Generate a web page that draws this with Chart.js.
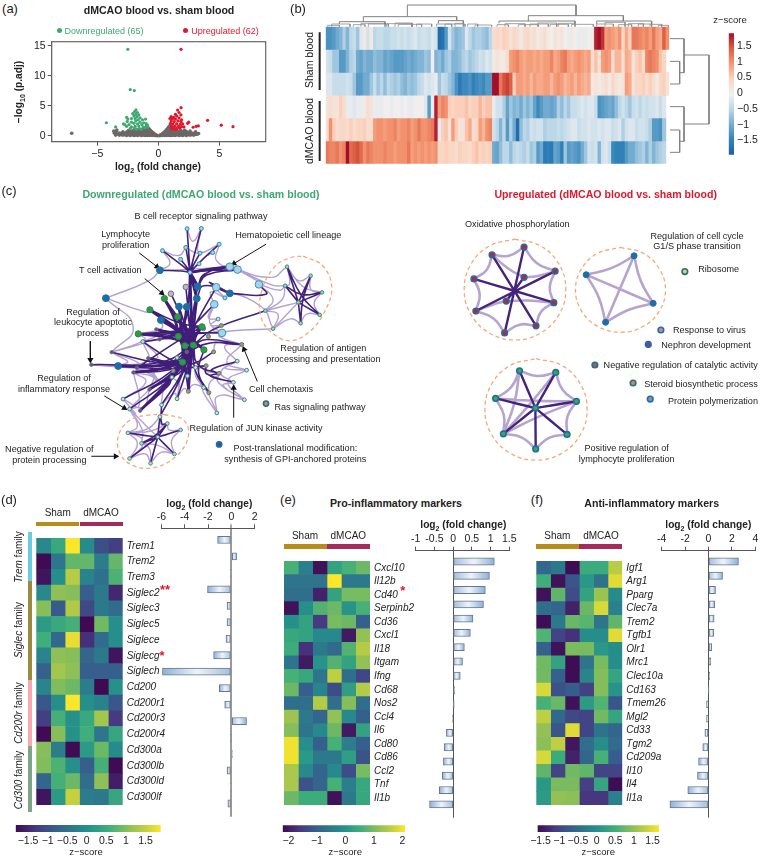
<!DOCTYPE html>
<html>
<head>
<meta charset="utf-8">
<title>dMCAO blood vs. sham blood</title>
<script src="https://cdn.jsdelivr.net/npm/chart.js@4"></script>
<style>
  html, body { margin: 0; padding: 0; background: #fff; }
  #page { position: relative; width: 760px; height: 857px; overflow: hidden; font-family: "Liberation Sans", Arial, sans-serif; color: #222; }
  #page canvas { position: absolute; }
  .note { position: absolute; white-space: nowrap; text-align: center; z-index: 5; }
  .block { position: absolute; z-index: 4; }
</style>
</head>
<body>
<div id="page"></div>
<script>
// ---------- Datos: (a) volcano ----------
var volcanoXTicks = [-5, 0, 5];
var volcanoYTicks = [0, 5, 10, 15];
var downPts = [[-2.5,14.4],[-2.3,7.7],[-1.97,7.55],[-4.26,2.2],[-3.5,1.5],[-1.83,4.33],[-1.94,4.05],[-1.72,3.9],[-2.1,3.7],[-1.85,3.6],[-1.6,3.5],[-2,3.3],[-1.75,3.2],[-2.6,3.1],[-2.5,2.8],[-1.5,3],[-1.9,2.9],[-2.2,2.9],[-1.65,2.7],[-1.3,2.7],[-1.05,2.8],[-1.85,2.5],[-2.55,2.4],[-2.2,2.3],[-1.5,2.3],[-1.2,2.2],[-2.85,2],[-2.4,1.9],[-2,2.1],[-1.7,2],[-1.35,1.9],[-1,2.05],[-2.6,1.6],[-2.2,1.5],[-1.9,1.6],[-1.6,1.65],[-1.25,1.5],[-0.95,1.7],[-2.3,1.25],[-1.95,1.3],[-1.55,1.25],[-1.1,1.35],[-0.85,1.5],[-1.8,1.15],[-1.4,1.1],[-2.75,1.9],[-0.9,1.85]];
var upPts = [[1.86,14.4],[1.86,4.7],[1.58,4.3],[1.7,3.9],[1.4,3.6],[1.85,3.5],[1.05,3.2],[1.5,3.3],[1.25,3.1],[1.7,3],[0.95,2.9],[1.15,2.8],[1.4,2.8],[1.9,2.7],[1.6,2.5],[1.05,2.5],[1.3,2.4],[1.85,2.4],[2.49,2.3],[2.4,2.1],[4.04,2.6],[5.16,1.8],[6.12,1.55],[3.28,1.67],[3.1,1.6],[1,2.1],[1.2,2],[1.5,2],[1.8,1.95],[2,2],[1.1,1.7],[1.35,1.6],[1.65,1.6],[1.9,1.55],[2.1,1.5],[1.05,1.4],[1.25,1.3],[1.5,1.25],[1.75,1.3],[1.15,1.15],[1.4,1.1],[2.85,1.45]];
var greyPts = [[-7.1,0.45],
  [-0.1,0.05],[-0.15,0.15],[-0.2,0.08],[-0.25,0.25],[-0.3,0.1],[-0.35,0.4],[-0.4,0.2],[-0.45,0.55],[-0.5,0.1],[-0.5,0.35],[-0.55,0.75],[-0.6,0.2],[-0.6,0.5],[-0.65,0.95],[-0.7,0.1],[-0.7,0.35],[-0.7,0.7],[-0.75,1.15],[-0.8,0.2],[-0.8,0.5],[-0.8,0.9],[-0.85,1.35],[-0.9,0.1],[-0.9,0.35],[-0.9,0.7],[-0.9,1.1],[-0.95,1.55],[-1,0.15],[-1,0.5],[-1,0.85],[-1,1.25],[-1.1,0.1],[-1.1,0.35],[-1.1,0.65],[-1.1,1],[-1.15,1.3],[-1.25,0.15],[-1.25,0.45],[-1.25,0.8],[-1.25,1.15],[-1.4,0.1],[-1.4,0.35],[-1.4,0.7],[-1.4,0.95],[-1.55,0.2],[-1.55,0.5],[-1.55,0.85],[-1.7,0.1],[-1.7,0.4],[-1.7,0.75],[-1.7,1.05],[-1.85,0.15],[-1.85,0.45],[-1.85,0.8],[-2,0.1],[-2,0.35],[-2,0.65],[-2,1],[-2.15,0.2],[-2.15,0.5],[-2.15,0.8],[-2.3,0.1],[-2.3,0.4],[-2.3,0.7],[-2.45,0.2],[-2.45,0.5],[-2.45,0.9],[-2.6,0.1],[-2.6,0.35],[-2.6,0.65],[-2.75,0.2],[-2.75,0.45],[-2.9,0.15],[-2.9,0.4],[-2.9,0.7],[-3.05,0.2],[-3.05,0.45],[-3.2,0.15],[-3.2,0.5],[-3.4,0.3],[-3.45,0.75],[-3.5,0.15],[-3.6,0.45],[-3.65,0.8],[-3.4,1],
  [0.1,0.05],[0.15,0.15],[0.2,0.08],[0.25,0.25],[0.3,0.1],[0.35,0.4],[0.4,0.2],[0.45,0.55],[0.5,0.1],[0.5,0.35],[0.55,0.75],[0.6,0.2],[0.6,0.5],[0.65,1],[0.7,0.1],[0.7,0.35],[0.7,0.7],[0.75,1.25],[0.8,0.2],[0.8,0.5],[0.8,0.95],[0.85,1.5],[0.9,0.1],[0.9,0.35],[0.9,0.7],[0.9,1.2],[0.95,1.75],[1,0.15],[1,0.5],[1,0.85],[1.05,1.2],[1.1,0.1],[1.1,0.35],[1.1,0.65],[1.1,0.95],[1.25,0.15],[1.25,0.45],[1.25,0.8],[1.4,0.1],[1.4,0.35],[1.4,0.7],[1.55,0.2],[1.55,0.5],[1.55,0.85],[1.7,0.1],[1.7,0.4],[1.7,0.75],[1.85,0.15],[1.85,0.45],[1.85,0.9],[2,0.1],[2,0.35],[2,0.65],[2.15,0.2],[2.15,0.5],[2.15,0.95],[2.3,0.1],[2.3,0.4],[2.3,0.75],[2.45,0.2],[2.45,0.5],[2.6,0.15],[2.6,0.4],[2.6,0.8],[2.75,0.2],[2.75,0.5],[2.9,0.15],[2.9,0.4],[3.05,0.25],[3.05,0.7],[3.2,0.3],[3.3,0.4]
];

// ---------- Datos: (b) mapa de calor ----------
var bRows = [
  [-1.3,-1.3,-1.2,-1,-.9,-.6,-.9,-.5,-.4,-.7,-.2,.1,-.3,.1,-.5,-.4,-.4,-.5,-.5,-.4,-.4,-.3,-.4,-.3,-.4,-.3,-.2,-.4,-.3,-.3,-.4,-.2,-.3,-1.8,-1.7,-1.2,-.3,-.7,-.9,-.8,-.7,-.2,-.5,-.7,-.6,-.6,-.7,-.8,-.5, .3,.4,.3,.5,.4,.2,.4,.3,.1,.3,.4,.2,.3,.1,.2,.3,.1,0,.2,.1,.2,0,-.1,.1,0,-.1,.1,-.1,0,.1, 1.8,1.9,1.7,.9,1,.9,.8,1,.4,.8,.5,1.2,1.2,1.1,1,1.1,.9,1.2,.9,.8,1.4,1],
  [-.3,-.4,-.7,-.7,-1.2,-1.2,-.9,-.6,-.5,-1,-1.1,-.9,-1,-1,-.8,-.9,-.9,-1.1,-1,-1.1,-1.2,-1.2,-1.2,-1.1,-1,-1.1,-1,-.9,-.9,-.7,-.8,0,-.9,-.8,-1,-.7,-.6,-.9,-.9,-.8,-.6,-.5,-.7,-.6,-.5,-.3,-.4,-.2,-.3, .1,.2,.1,.1,.3,.9,1,1.1,.9,.8,.9,.9,.8,.9,.8,.9,.9,1.1,.8,.9,1.1,1.2,.9,.8,.9,1,.9,.8,.9,.3,.6,.2,.9,1,.9,.3,.7,.7,.3,.8,.7,.2,.5,.6,.3,1.1,1.2,1.1,1,.6,.4],
  [-.2,-.2,-.4,-.4,-.4,-.4,-.3,-.4,-.7,-1.2,-1.2,-1,-1,-.7,-.4,-.7,-.5,-.8,-.5,-.6,-.7,-.6,-.8,-.9,-.7,-.8,-.7,-.5,-.4,-.2,-.3,-.2,-.1,-.7,-.4,-.5,-.7,-.9,-1.3,-1.6,-1.4,-1.4,-1.3,-1.5,-1.4,-1.3,-1.4,-1.2,-1.2, 1.9,1.9,1.2,1.5,1.6,1.4,.5,.9,.9,.8,.9,.7,.9,.8,.8,.9,.9,.7,.9,1,.9,.7,.8,.9,.7,.9,.8,.7,.8,.1,.2,.1,.2,.3,.1,.4,.2,.1,.2,.9,.8,.2,.4,.4,.5,.3,.5,.3,.1,.4,.5,.2],
  [.2,.3,.2,.2,.5,.3,-.1,-.1,-.2,-.1,-.1,.1,.3,.2,-.1,-.1,-.1,0,0,-.1,0,0,-.1,0,-.1,-.1,0,0,0,-.2,-1.2,-.1,1.8,.9,1.1,1,.5,.4,.5,.5,.5,.6,.4,.5,.5,.7,.5,.6,.6, -.1,-.3,-.3,-.6,-1.1,-.7,-.9,-.8,-1,-.7,-.9,-.7,-1.1,-1.4,-1.2,-1,-1,-1.1,-1,-.6,-.8,-.5,-.7,-.4,-.4,-.3,-.2,-.3,-.2,-.2,-.4,-1.3,-1.2,-1.1,-1,-1.1,-.8,-.5,-.3,-.5,-.7,-.4,-.3,-.5,-.3,-.4,-.3,-.3,-.2,-.4,-.2],
  [.3,1,.5,.3,.4,.4,.3,.5,.3,.4,.4,.5,.3,.3,.9,1,1,.9,1,1,1.1,.9,1,1,1.1,.9,1,1.2,1,1,1.1,1.2,1.8,-.1,.5,.6,.2,.9,.5,.2,.2,.6,.8,.3,.4,.9,.7,1,1.1, -.3,-.5,-.9,-.5,-1.2,-.6,-1,-1.8,-.8,-.5,-.6,-.3,-.4,-.3,-.3,-.6,-.5,-.5,-.5,-.4,-.5,-.4,-.3,-.2,-.2,-.4,-.3,-.3,-.2,-.3,-.3,-.2,-.3,-.2,-.2,-.4,-.3,-.2,-.6,-.3,-.2,-.2,-.4,-.3,-.3,-.4,-.6,-1.2,-1.2,-1.3,-.7],
  [1.2,1.1,1.1,1.2,1,1.1,1.9,1.3,1.4,1.5,1.3,1,1.2,1.1,1,1,1,1.1,1,1,.9,1,1,1,1.2,.9,1,.9,1,.9,1,.9,1,.4,.4,.5,.4,.4,.3,.5,.4,.4,.3,.5,.6,.4,.5,.4,.5, -1,-1.1,-.8,-.5,-.5,-.8,-.5,-.4,-.5,-.6,-.4,-.7,-.6,-1.2,-1,-1.6,-1.5,-1.6,-1.1,-1.2,-1.5,-.7,-1.2,-1.1,-1.2,-1.3,-1,-.7,-.3,-.4,-.3,-.9,-.3,-.2,-.4,-1.4,-1.5,-1.5,-1.5,-1.2,-1,-1,-.8,-.7,-.6,-.9,-.6,-.9,-.7,-.6,-.5]
];
var bTicks = [-1.5, -1, -0.5, 0, 0.5, 1, 1.5];

// ---------- Datos: (d) ----------
var dGenes = ["Trem1","Trem2","Trem3","Siglec2","Siglec3","Siglec5","Siglece","Siglecg","Siglech","Cd200","Cd200r1","Cd200r3","Cd200r4","Cd300a","Cd300lb","Cd300ld","Cd300lf"];
var dZ = [[-.1,.45,1.9,-.05,-1,-1.25],[-1.8,-.4,.8,.8,-.3,.8],[-1.7,0,1.4,-.2,-.5,.65],[-.1,1.1,1.05,-.8,-.35,-1.5],[1.05,-.85,1.35,-1.1,-.35,-.6],[.2,.45,.6,-1.85,.9,0],[.55,-.65,1.75,-1.4,-.6,0],[-.15,1.1,1.05,-.7,-.35,-1.7],[-.75,1.25,1.1,-.8,-.8,-.8],[-.15,1,.85,-.3,-1.85,.05],[-.9,0,1.9,0,-.2,-.9],[-1.25,.6,.05,.45,1.25,-1.3],[-1.8,1.05,.05,.55,-.4,.4],[1.05,-.3,-1.8,.2,.85,-.05],[1,.65,0,-.8,.6,-1.8],[-.7,.6,.85,-.55,1.1,-1.6],[-1.7,.2,1.5,-.3,-.35,.4]];
var dFold = [-1.18,.45,-.05,-2.04,-.37,-.37,-.46,-1.52,-5.9,-1.03,-.57,1.3,-.02,.08,-.37,-.08,-.3];
var dFoldTicks = [-6,-4,-2,0,2];
var dZTicks = [-1.5,-1,-.5,0,.5,1,1.5];

// ---------- Datos: (e) ----------
var eGenes = ["Cxcl10","Il12b","Cd40","Serpinb2","Cd36","Cxcl1","Il18","Itgam","Ifng","Cd68","Nos2","Ccl4","Il6","Cd80","Cd86","Ccl2","Tnf","Il1b"];
var eZ = [[.6,-.4,-2.1,.3,.6,.9],[-.6,-.6,-.6,2.1,-.5,-.5],[-.7,-.7,-1.9,.3,1,1],[-2.1,-.1,.7,.9,0,.6],[-.1,.3,-1.6,1,.9,-1],[.4,.3,-.2,-.2,-2,1.2],[.5,-1.7,-.5,-.8,.7,1.5],[-.6,-2,0,.7,.3,1.2],[.6,.4,-.6,1.6,-.7,-1.4],[.9,-1,-.3,-1.3,.2,1.5],[-.7,-.7,1.5,-.7,1.1,-.7],[1.3,-.5,-.9,1.2,-.2,-1],[1.1,-.6,-.2,.9,-2,.3],[2,-.1,-1,.6,-.4,-1],[2,.1,-.5,-.5,.2,-1.2],[1.4,-.2,-.9,-.2,-1.3,1],[1.4,-1.2,-.9,.6,-.4,.4],[.9,.5,.5,-2.1,-.5,.4]];
var eFold = [1.1,.97,.86,.81,.53,.46,.3,.25,.19,.04,.03,-.02,-.18,-.24,-.26,-.29,-.37,-.63];
var eFoldTicks = [-1,-.5,0,.5,1,1.5];
var eZTicks = [-2,-1,0,1,2];

// ---------- Datos: (f) ----------
var fGenes = ["Igf1","Arg1","Pparg","Clec7a","Trem2","Tgfb1","Olr1","Mrc1","Clec10a","Cd163","Tmem26","Mgl2","Cd33","Tgm2","Cd209a","Il10","Il4","Il1a"];
var fZ = [[-.55,-.3,-1.55,.45,.45,1.25],[.5,-1.5,-.8,.15,-.4,1.5],[-1.5,.7,-.9,.3,1.05,-.05],[-.45,-.6,-1.35,.75,1.45,-.2],[-1.55,-.3,.75,.65,-.35,.7],[.6,-1,-1.2,0,0,1.5],[-.65,-1.5,.85,.85,.15,0],[.8,.3,-1.55,-.35,.85,0],[.8,-.65,-1.55,-.1,.9,.35],[1.45,-.85,-.7,-1.05,.9,.1],[.55,.75,-1.5,.2,.6,-.8],[1.3,-.55,-.95,-1,.8,.35],[1,-.8,1.5,-1,-.4,-.6],[.95,1.3,-1.45,-.45,0,-.5],[1.45,.45,-1.35,-.6,.55,-.7],[.7,-1,.8,.7,-1,-1],[.15,.85,.85,-1.05,.35,-1.55],[.2,1,.95,-1.15,-1.15,-.2]];
var fFold = [2.56,1.2,.6,.54,.48,.46,.28,.2,.1,.01,-.17,-.17,-.31,-.49,-.85,-.94,-1.77,-3.3];
var fFoldTicks = [-4,-2,0,2,4];
var fZTicks = [-1.5,-1,-.5,0,.5,1,1.5];

// ---------- Datos: (c) redes, en unidades de lectura de la figura ----------
var paleNodes = [[693,268],[717,277],[783,323],[651,332],[645,385],[669,474]];
var blueNodes = [[594,330],[693,351],[591,367],[536,392],[560,393],[480,434],[477,279],[310,366],[348,577]];
var greenNodes = [[491,367],[446,402],[532,424],[410,477],[534,485],[554,514],[580,512],[613,527],[607,455],[547,565]];
var pinkNodes = [[511,352],[557,331]];
var topNodes = [[561,150],[605,149],[485,218],[557,208],[660,198],[601,226],[640,224],[541,245],[598,259],[570,286],[678,365]];
var antigenNodes = [[870,268],[943,296],[864,327],[978,348],[905,379],[803,405],[971,418],[912,444],[827,461]];
var redNodes = [[466,463],[476,494],[265,573],[328,534],[441,553],[406,583],[395,597],[560,533],[445,650],[416,716]];
var orangeNodes = [[730,510],[612,461],[627,485],[667,451],[643,533],[518,592],[620,576],[660,600],[628,660],[565,656]];
var creamNodes = [[424,501],[530,551],[587,582],[716,562],[745,590],[704,628],[738,682],[653,723],[612,644],[514,612],[562,608],[530,679],[363,680],[383,711],[482,698],[477,735],[657,431]];
var bottomNodes = [[378,785],[420,818],[470,798],[500,756],[541,776],[522,851],[448,880],[383,865]];
var downTrunk = [[36,8],[36,21],[21,19],[21,24],[19,24],[21,66],[17,21],[16,21],[18,21],[11,21],[21,23],[24,77],[0,36],[36,6],[15,19],[8,21],[10,19],[9,19],[23,24],[53,24],[14,24],[51,24],[55,24],[56,24],[47,21],[22,21],[20,24]];
var downDark = [[27,36],[28,36],[30,36],[32,36],[35,36],[29,36],[34,36],[31,36],[12,36],[0,36],[1,36],[36,6],[36,8],[36,21],[36,19],[6,20],[8,20],[9,20],[10,21],[3,20],[4,19],[5,18],[5,19],[15,21],[15,20],[16,21],[16,19],[16,23],[11,21],[11,22],[17,21],[17,24],[18,21],[18,23],[19,22],[47,21],[48,58],[67,21],[67,24],[51,21],[52,23],[53,24],[49,21],[50,24],[14,21],[14,63],[24,66],[24,77],[21,77],[21,66],[55,21],[55,24],[56,21],[56,76],[80,24],[79,21],[81,21],[82,21],[78,21],[62,21],[76,24],[65,22],[65,21],[64,21],[64,72],[57,24],[57,21],[63,72],[70,64],[61,24],[43,21],[2,7],[7,3],[7,8],[0,6],[1,6],[25,21],[26,21],[38,42],[39,42],[40,42],[41,42],[44,42],[45,42],[39,45],[38,44],[41,40],[84,86],[85,86],[87,86],[88,86],[89,86],[90,86],[91,86],[82,86],[87,85],[81,87]];
var downLight = [[13,12],[13,50],[12,0],[0,38],[1,40],[2,40],[1,2],[2,43],[12,29],[29,30],[30,31],[31,1],[33,31],[27,28],[28,32],[38,40],[38,39],[39,41],[41,44],[44,45],[45,46],[46,43],[43,40],[40,42],[42,46],[42,43],[38,41],[5,57],[5,46],[3,46],[57,70],[57,71],[70,71],[71,73],[72,73],[73,74],[74,75],[75,65],[64,74],[64,73],[61,57],[49,50],[50,67],[50,53],[49,52],[14,67],[14,52],[79,80],[79,55],[80,84],[80,85],[80,86],[84,85],[84,87],[84,91],[85,90],[85,91],[85,89],[90,91],[90,89],[89,88],[88,87],[87,82],[82,84],[86,91],[86,90],[55,53],[53,79],[53,80],[51,80],[52,55],[52,81],[81,78],[78,66],[66,75],[76,78],[68,78],[69,75],[69,63],[63,64],[70,72],[67,51],[67,18],[11,18],[18,50],[13,16],[4,5],[60,5],[83,60],[83,4],[7,37],[37,4]];
var downHubs = [[570,280],[570,470],[560,600],[905,379],[470,800]];
var antigenEllipse = [[920,235],[980,265],[1008,330],[990,400],[940,470],[880,498],[825,475],[790,425],[790,350],[830,270],[880,240],[920,235]];
var processingEllipse = [[490,728],[550,745],[565,795],[530,855],[460,893],[390,885],[352,845],[350,790],[385,745],[440,730],[490,728]];
var soloLeft = [[805,694,"#e8862a"],[660,821,"#3f4a9a"]];
var arrowsLeft = [[[413,225],[468,268]],[[430,305],[483,350]],[[805,198],[706,258]],[[262,500],[262,558]],[[305,670],[367,708]],[[265,858],[340,858]],[[778,625],[737,525]],[[705,738],[705,645]]];

var oxNodes = [[428,207],[329,231],[524,282],[273,306],[428,301],[520,380],[373,375],[279,406],[465,452],[368,474]];
var cycleNodes = [[620,293],[768,234],[827,382],[680,441]];
var lymphNodes = [[414,592],[526,597],[340,678],[590,687],[463,708],[364,788],[561,790],[464,835]];
var upDark = [[0,9],[1,8],[3,5],[7,2],[4,6],[14,18],[15,18],[16,18],[17,18],[19,18],[20,18],[21,18]];
var upLight = [[0,1],[0,2],[2,5],[5,8],[8,9],[9,7],[7,3],[3,1],[1,4],[2,4],[6,5],[7,6],[10,11],[11,12],[12,13],[13,10],[10,12],[11,13],[14,15],[15,17],[17,20],[20,21],[21,19],[19,16],[16,14],[14,19],[15,19],[16,17],[19,17]];
var upHubs = [[400,342],[724,338],[463,708]];
var oxCircle = [[400,182],[478,203],[536,260],[557,339],[536,417],[478,475],[400,496],[322,475],[264,417],[243,339],[264,260],[322,203],[400,182]];
var cycleCircle = [[726,208],[796,226],[846,274],[865,340],[846,406],[796,454],[726,472],[656,454],[606,406],[587,340],[606,274],[656,226],[726,208]];
var lymphCircle = [[465,554],[544,575],[602,633],[623,712],[602,791],[544,849],[465,870],[386,849],[328,791],[307,712],[328,633],[386,575],[465,554]];
var soloRight = [[925,283,"#f2d32a"],[851,465,"#e07ab0"],[812,510,"#7a3f98"],[647,574,"#b5602a"],[765,630,"#e8862a"],[818,680,"#8f93a0"]];

// ---------- Datos: (b) dendrogramas, mismas unidades ----------
var treeTop = [[[367,50],[367,15],[873,15],[873,47]],[[235,65],[235,50],[515,50],[515,62]],[[730,63],[730,47],[1015,47],[1015,63]],[[163,72],[163,65],[300,65],[300,72]],[[460,70],[460,62],[535,62],[535,70]],[[642,70],[642,63],[870,63],[870,70]],[[935,72],[935,63],[1100,63],[1100,72]]];
var treeLeaves = [[128,163,76],[140,195,72],[205,240,74],[228,300,70],[250,310,72],[305,380,71],[330,382,69],[340,410,73],[395,440,72],[455,500,72],[480,540,72],[510,535,70],[548,578,72],[570,620,75],[636,670,74],[660,720,71],[700,760,74],[735,790,72],[758,815,69],[795,850,73],[820,870,70],[860,925,73],[935,985,72],[960,1020,67],[1000,1040,74],[1030,1075,71],[1060,1100,72],[1095,1130,73],[1120,1150,76]];
var treeSide = [[[1155,116],[1197,116],[1197,218],[1184,218]],[[1155,184],[1184,184],[1184,252],[1155,252]],[[1155,320],[1197,320],[1197,424],[1184,424]],[[1155,390],[1184,390],[1184,457],[1155,457]],[[1197,165],[1272,165],[1272,372],[1197,372]]];
var sideBars = [[[104,97],[104,270]],[[104,303],[104,483]]];

// ---------- Colores y utilidades ----------
var viridis = [[0,"#3f0a52"],[.14,"#463a82"],[.28,"#35608d"],[.5,"#25908b"],[.64,"#3fae7a"],[.78,"#8cbf58"],[.9,"#c6d13f"],[1,"#fce62c"]];
var rdbu = [[0,"#1a62a3"],[.12,"#3182b9"],[.25,"#74acd0"],[.37,"#b9d6e8"],[.5,"#f1f0f0"],[.63,"#fbd2bd"],[.76,"#f3946f"],[.89,"#d8563f"],[1,"#a30f2a"]];

Chart.defaults.animation = false;
Chart.defaults.font.family = '"Liberation Sans", Arial, sans-serif';
Chart.defaults.font.size = 10.5;
Chart.defaults.color = "#222";
Chart.defaults.events = [];
Chart.defaults.plugins.legend.display = false;
Chart.defaults.plugins.tooltip.enabled = false;

var page = document.getElementById("page");

function hex(c) { return [parseInt(c.slice(1,3),16), parseInt(c.slice(3,5),16), parseInt(c.slice(5,7),16)]; }
function colorAt(map, t) {
  t = Math.max(0, Math.min(1, t));
  for (var i = 1; i < map.length; i++) {
    if (t <= map[i][0]) {
      var a = hex(map[i-1][1]), b = hex(map[i][1]), k = (t - map[i-1][0]) / (map[i][0] - map[i-1][0]);
      return "rgb(" + [0,1,2].map(function (j) { return Math.round(a[j] + (b[j]-a[j]) * k); }).join(",") + ")";
    }
  }
  return map[map.length-1][1];
}
function minusSign(v) { return String(v).replace("-", "\u2212"); }
function fixedTicks(list) { return function (s) { s.ticks = list.map(function (v) { return { value: v }; }); }; }

// Crea un canvas con el area de dibujo fijada en pixeles de la pagina
function mount(r, m, ax) {
  ax = ax || {};
  var cv = document.createElement("canvas");
  var cx = Math.floor(r.l - m.l), cy = Math.floor(r.t - m.t);
  var w = Math.ceil(r.r + m.r) - cx, h = Math.ceil(r.b + m.b) - cy;
  cv.width = w; cv.height = h;
  cv.style.left = cx + "px"; cv.style.top = cy + "px";
  cv.style.width = w + "px"; cv.style.height = h + "px";
  page.appendChild(cv);
  return {
    canvas: cv,
    padding: {
      left: r.l - cx - (ax.left || 0),
      top: r.t - cy - (ax.top || 0),
      right: w - (r.r - cx) - (ax.right || 0),
      bottom: h - (r.b - cy) - (ax.bottom || 0)
    }
  };
}
function note(x, y, html, o) {
  o = o || {};
  var d = document.createElement("div");
  d.className = "note";
  d.innerHTML = html;
  d.style.left = x + "px";
  d.style.top = y + "px";
  d.style.fontSize = (o.size || 9.1) + "px";
  d.style.lineHeight = (o.lh || 10.7) + "px";
  if (o.bold) d.style.fontWeight = "bold";
  if (o.italic) d.style.fontStyle = "italic";
  d.style.color = o.color || "#222";
  d.style.transform = "translate(-50%,-50%)" + (o.rot ? " rotate(" + o.rot + "deg)" : "");
  page.appendChild(d);
}
function block(l, t, r, b, color, round) {
  var d = document.createElement("div");
  d.className = "block";
  d.style.cssText = "left:" + l + "px;top:" + t + "px;width:" + (r-l) + "px;height:" + (b-t) + "px;background:" + color + (round ? ";border-radius:50%" : "");
  page.appendChild(d);
}

function heatChart(r, genes, mat, vmin, vmax, labelW) {
  var box = mount(r, { l: 1, t: 3, r: labelW + 1, b: 3 }, { right: labelW });
  var sets = [0,1,2,3,4,5].map(function (c) {
    return {
      data: mat.map(function () { return [c, c + 1]; }),
      backgroundColor: mat.map(function (row) { return colorAt(viridis, (row[c] - vmin) / (vmax - vmin)); }),
      borderWidth: 0, grouped: false, categoryPercentage: 1, barPercentage: 1
    };
  });
  new Chart(box.canvas, {
    type: "bar",
    data: { labels: genes, datasets: sets },
    options: {
      responsive: false, indexAxis: "y", layout: { padding: box.padding },
      scales: {
        x: { type: "linear", min: 0, max: 6, display: false },
        y: {
          position: "right", grid: { display: false, drawTicks: false }, border: { display: false },
          afterFit: function (s) { s.width = labelW; },
          ticks: { autoSkip: false, crossAlign: "near", padding: 4, color: "#222", font: { size: 10, style: "italic" } }
        }
      }
    }
  });
}

function foldChart(r, genes, vals, ticks, rowTop, rowH, zeroColor, zeroW) {
  var box = mount(r, { l: 12, t: 20, r: 12, b: 2 }, { top: 18 });
  new Chart(box.canvas, {
    type: "bar",
    data: {
      labels: genes,
      datasets: [{
        data: vals.map(function (v, i) { return { x: v, y: i + 0.5 }; }),
        barThickness: 7.2, borderWidth: 1, borderColor: "#66788c", borderSkipped: false,
        backgroundColor: function (c) {
          var chart = c.chart, xs = chart.scales.x;
          if (!chart.chartArea || !c.parsed) return "#bcd0e6";
          var g = chart.ctx.createLinearGradient(xs.getPixelForValue(c.parsed.x), 0, xs.getPixelForValue(0), 0);
          g.addColorStop(0, "#8dafd8"); g.addColorStop(0.5, "#eef3fa"); g.addColorStop(1, "#a3bcdc");
          return g;
        }
      }]
    },
    options: {
      responsive: false, indexAxis: "y", layout: { padding: box.padding },
      scales: {
        x: {
          position: "top", type: "linear", min: ticks[0], max: ticks[ticks.length-1],
          afterFit: function (s) { s.height = 18; },
          afterBuildTicks: fixedTicks(ticks),
          border: { color: "#555", width: 1 },
          grid: {
            tickLength: 4, tickColor: "#555", tickWidth: 1,
            color: function (c) { return c.tick && c.tick.value === 0 ? zeroColor : "rgba(0,0,0,0)"; },
            lineWidth: function (c) { return c.tick && c.tick.value === 0 ? zeroW : 1; }
          },
          ticks: { padding: 1, maxRotation: 0, autoSkip: false, color: "#222", font: { size: 10.5 }, callback: function (v) { return String(v); } }
        },
        y: { type: "linear", reverse: true, offset: false, display: false, min: rowTop, max: rowTop + (r.b - r.t) / rowH }
      }
    }
  });
}

function zBar(r, vmin, vmax, ticks) {
  var box = mount(r, { l: 8, t: 1, r: 8, b: 16 }, { bottom: 15 });
  new Chart(box.canvas, {
    type: "bar",
    data: {
      labels: ["z-score"],
      datasets: [{
        data: [[vmin, vmax]], borderWidth: 0, categoryPercentage: 1, barPercentage: 1,
        backgroundColor: function (c) {
          var a = c.chart.chartArea;
          if (!a) return "#25908b";
          var g = c.chart.ctx.createLinearGradient(a.left, 0, a.right, 0);
          viridis.forEach(function (s) { g.addColorStop(s[0], s[1]); });
          return g;
        }
      }]
    },
    options: {
      responsive: false, indexAxis: "y", layout: { padding: box.padding },
      scales: {
        x: {
          type: "linear", min: vmin, max: vmax,
          afterFit: function (s) { s.height = 15; },
          afterBuildTicks: fixedTicks(ticks),
          grid: { display: false, drawTicks: false }, border: { display: false },
          ticks: { padding: 3, maxRotation: 0, autoSkip: false, color: "#222", font: { size: 10.5 }, callback: function (v) { return minusSign(v); } }
        },
        y: { display: false }
      }
    }
  });
}

// Aristas: cada una pasa por un punto medio atraido hacia el nucleo mas cercano
function edgePoints(nodes, edges, hubs, pull) {
  var out = [];
  edges.forEach(function (e) {
    var a = nodes[e[0]], b = nodes[e[1]];
    var mx = (a[0] + b[0]) / 2, my = (a[1] + b[1]) / 2, best = hubs[0], dist = 1e9;
    hubs.forEach(function (h) {
      var d = Math.hypot(h[0] - mx, h[1] - my);
      if (d < dist) { dist = d; best = h; }
    });
    out.push({ x: a[0], y: a[1] });
    out.push({ x: mx + (best[0] - mx) * pull, y: my + (best[1] - my) * pull });
    out.push({ x: b[0], y: b[1] });
    out.push({ x: NaN, y: NaN });
  });
  return out;
}
function xy(list) { return list.map(function (p) { return { x: p[0], y: p[1] }; }); }
function nodeSet(list, fill, radius, edge, edgeW) {
  return {
    data: xy(list), pointRadius: radius, pointBackgroundColor: fill,
    pointBorderColor: edge || "#2a86b0", pointBorderWidth: edgeW === undefined ? 1 : edgeW
  };
}
function pathSet(points, color, width, dash, tension) {
  return {
    data: points, showLine: true, pointRadius: 0, borderColor: color, borderWidth: width,
    borderDash: dash || [], tension: tension || 0, fill: false
  };
}
function arrowSet(a) {
  var angle = Math.atan2(a[1][0] - a[0][0], a[0][1] - a[1][1]) * 180 / Math.PI;
  return {
    data: xy(a), showLine: true, borderColor: "#111", borderWidth: 1, pointStyle: "triangle",
    pointRadius: [0, 3.6], pointRotation: [0, angle], pointBackgroundColor: "#111", pointBorderWidth: 0
  };
}
function sketchChart(r, xMax, yMax, sets) {
  var box = mount(r, { l: 0, t: 0, r: 0, b: 0 });
  new Chart(box.canvas, {
    type: "scatter",
    data: { datasets: sets },
    options: {
      responsive: false, layout: { padding: box.padding },
      scales: {
        x: { type: "linear", min: 0, max: xMax, display: false },
        y: { type: "linear", min: 0, max: yMax, reverse: true, display: false }
      }
    }
  });
}

// ---------- (a) ----------
(function () {
  var r = { l: 51.7, t: 41.7, r: 265.7, b: 141.7 };
  var box = mount(r, { l: 30, t: 8, r: 8, b: 20 }, { left: 24, bottom: 18 });
  new Chart(box.canvas, {
    type: "scatter",
    data: {
      datasets: [
        { data: xy(upPts), pointRadius: 1.6, pointBorderWidth: 0, pointBackgroundColor: "#e0182d" },
        { data: xy(downPts), pointRadius: 1.6, pointBorderWidth: 0, pointBackgroundColor: "#3fa873" },
        { data: xy(greyPts), pointRadius: 1.8, pointBorderWidth: 0, pointBackgroundColor: "#6e6767" }
      ]
    },
    options: {
      responsive: false, layout: { padding: box.padding },
      scales: {
        x: {
          type: "linear", min: -8.74, max: 8.8,
          afterFit: function (s) { s.height = 18; }, afterBuildTicks: fixedTicks(volcanoXTicks),
          grid: { drawOnChartArea: false, tickLength: 4, tickColor: "#555" }, border: { color: "#666", width: 1 },
          ticks: { padding: 2, maxRotation: 0, color: "#222", font: { size: 10.5 }, callback: function (v) { return minusSign(v); } }
        },
        y: {
          type: "linear", min: -0.95, max: 15.66,
          afterFit: function (s) { s.width = 24; }, afterBuildTicks: fixedTicks(volcanoYTicks),
          grid: { drawOnChartArea: false, tickLength: 4, tickColor: "#555" }, border: { color: "#666", width: 1 },
          ticks: { padding: 2, color: "#222", font: { size: 10.5 } }
        }
      }
    },
    plugins: [{
      id: "frame",
      afterDraw: function (chart) {
        var a = chart.chartArea, c = chart.ctx;
        c.save(); c.strokeStyle = "#666"; c.lineWidth = 1.2;
        c.strokeRect(a.left, a.top, a.right - a.left, a.bottom - a.top);
        c.restore();
      }
    }]
  });
})();

// ---------- (b) ----------
(function () {
  var r = { l: 325.7, t: 26.7, r: 669.3, b: 163.7 };
  var box = mount(r, { l: 1, t: 1, r: 1, b: 1 });
  var cols = bRows[0].map(function (v, i) { return i; });
  new Chart(box.canvas, {
    type: "bar",
    data: {
      labels: cols,
      datasets: bRows.map(function (row, k) {
        return {
          data: row.map(function () { return [k, k + 1]; }),
          backgroundColor: row.map(function (v) { return colorAt(rdbu, (v + 1.95) / 3.85); }),
          borderWidth: 0, grouped: false, categoryPercentage: 1, barPercentage: 1
        };
      })
    },
    options: {
      responsive: false, layout: { padding: box.padding },
      scales: { x: { display: false }, y: { type: "linear", min: 0, max: 6, reverse: true, display: false } }
    }
  });

  var cb = mount({ l: 728.7, t: 32.7, r: 734, b: 156 }, { l: 1, t: 8, r: 26, b: 8 }, { right: 25 });
  new Chart(cb.canvas, {
    type: "bar",
    data: {
      labels: ["z-score"],
      datasets: [{
        data: [[-1.95, 1.9]], borderWidth: 0, categoryPercentage: 1, barPercentage: 1,
        backgroundColor: function (c) {
          var a = c.chart.chartArea;
          if (!a) return "#f1f0f0";
          var g = c.chart.ctx.createLinearGradient(0, a.bottom, 0, a.top);
          rdbu.forEach(function (s) { g.addColorStop(s[0], s[1]); });
          return g;
        }
      }]
    },
    options: {
      responsive: false, layout: { padding: cb.padding },
      scales: {
        x: { display: false },
        y: {
          type: "linear", position: "right", min: -1.95, max: 1.9,
          afterFit: function (s) { s.width = 25; }, afterBuildTicks: fixedTicks(bTicks),
          grid: { display: false, drawTicks: false }, border: { display: false },
          ticks: { padding: 3, crossAlign: "near", color: "#222", font: { size: 10.5 }, callback: function (v) { return minusSign(v); } }
        }
      }
    }
  });

  var sets = [];
  treeTop.concat(treeSide).forEach(function (p) { sets.push(pathSet(xy(p), "#808080", 1)); });
  treeLeaves.forEach(function (u) {
    sets.push(pathSet(xy([[u[0], 80], [u[0], u[2]], [u[1], u[2]], [u[1], 80]]), "#8a8a8a", 0.8));
  });
  sideBars.forEach(function (p) { sets.push(pathSet(xy(p), "#222", 2)); });
  sketchChart({ l: 285, t: 0, r: 760, b: 175 }, 1425, 525, sets);
})();

// ---------- (c) ----------
(function () {
  var groups = [paleNodes, blueNodes, greenNodes, pinkNodes, topNodes, antigenNodes, redNodes, orangeNodes, creamNodes, bottomNodes];
  var all = groups.reduce(function (acc, g) { return acc.concat(g); }, []);
  var ring = "#2a86b0";
  var left = [
    nodeSet(soloLeft.map(function (p) { return p.slice(0, 2); }), soloLeft.map(function (p) { return p[2]; }), 2.6, "#1c6ea4", 1.6),
    nodeSet(paleNodes, "#a5d3ea", 3.8, "#3f92bd"),
    nodeSet(blueNodes, "#1c6ea4", 3.4, "#1c6ea4"),
    nodeSet(greenNodes, "#2e9e3a", 3.1, "#2a7f5a"),
    nodeSet(pinkNodes, "#f2a2a0", 2.8, ring),
    nodeSet(topNodes, "#a9d6e6", 2, ring),
    nodeSet(antigenNodes, "#b4d96a", 1.8, ring),
    nodeSet(redNodes, "#d7263d", 1.7, ring),
    nodeSet(orangeNodes, "#e8862a", 2, ring),
    nodeSet(creamNodes, "#dfe69a", 1.9, ring),
    nodeSet(bottomNodes, "#e8d88a", 1.8, ring)
  ];
  arrowsLeft.forEach(function (a) { left.push(arrowSet(a)); });
  left.push(pathSet(xy(antigenEllipse), "#f4a878", 1.3, [4, 3], 0.4));
  left.push(pathSet(xy(processingEllipse), "#f4a878", 1.3, [4, 3], 0.4));
  left.push(pathSet(edgePoints(all, downTrunk, downHubs, 0.2), "#3f1d78", 2.8, null, 0.5));
  left.push(pathSet(edgePoints(all, downDark, downHubs, 0.4), "#43207c", 1.6, null, 0.5));
  left.push(pathSet(edgePoints(all, downLight, downHubs, 0.3), "rgba(128,100,176,0.6)", 1.4, null, 0.5));
  sketchChart({ l: 0, t: 175, r: 380, b: 485 }, 1140, 930, left);

  var upAll = oxNodes.concat(cycleNodes, lymphNodes);
  var right = [
    nodeSet(soloRight.map(function (p) { return p.slice(0, 2); }), soloRight.map(function (p) { return p[2]; }), 2.8, "#1c6ea4", 1.6),
    nodeSet(oxNodes, "#d9182d", 2.8, "#1c6ea4", 1.6),
    nodeSet(cycleNodes, "#1c6ea4", 3, "#1c6ea4", 1),
    nodeSet(lymphNodes, "#3fa84a", 2.8, "#1c6ea4", 1.6),
    pathSet(xy(oxCircle), "#f4a878", 1.3, [4, 3], 0.4),
    pathSet(xy(cycleCircle), "#f4a878", 1.3, [4, 3], 0.4),
    pathSet(xy(lymphCircle), "#f4a878", 1.3, [4, 3], 0.4),
    pathSet(edgePoints(upAll, upDark, upHubs, 0.15), "#45237c", 2.4, null, 0.5),
    pathSet(edgePoints(upAll, upLight, upHubs, 0.12), "#b6a4cf", 2.6, null, 0.5)
  ];
  sketchChart({ l: 380, t: 175, r: 760, b: 485 }, 1140, 930, right);
})();

// ---------- (d) (e) (f) ----------
heatChart({ l: 36.3, t: 531.7, r: 122.7, b: 811.7 }, dGenes, dZ, -1.82, 1.89, 50);
foldChart({ l: 161.3, t: 528.3, r: 254.7, b: 816.7 }, dGenes, dFold, dFoldTicks, -0.206, 16.47, "#999", 2);
zBar({ l: 15.7, t: 825, r: 160.7, b: 832 }, -1.816, 1.89, dZTicks);

heatChart({ l: 284, t: 554.3, r: 370, b: 811.7 }, eGenes, eZ, -2.2, 2.09, 50);
foldChart({ l: 415.7, t: 550.7, r: 509.3, b: 817.7 }, eGenes, eFold, eFoldTicks, -0.252, 14.29, "#555", 1);
zBar({ l: 282.7, t: 825.3, r: 405, b: 832 }, -2.2, 2.09, eZTicks);

heatChart({ l: 536.3, t: 554.3, r: 622.3, b: 811.7 }, fGenes, fZ, -1.58, 1.67, 50);
foldChart({ l: 661.7, t: 550.7, r: 755.3, b: 817.7 }, fGenes, fFold, fFoldTicks, -0.252, 14.29, "#555", 1);
zBar({ l: 535, t: 825.3, r: 659, b: 832 }, -1.58, 1.67, fZTicks);

// Bandas de grupo
var gold = "#b88c18", wine = "#a62a5c";
block(36.3, 521.7, 79.5, 526.3, gold); block(79.5, 521.7, 122.7, 526.3, wine);
block(284, 544, 327, 548.7, gold); block(327, 544, 370, 548.7, wine);
block(536.3, 544, 579.3, 548.7, gold); block(579.3, 544, 622.3, 548.7, wine);
block(28.3, 531.7, 31.7, 580.7, "#6dcbe0");
block(28.3, 580.7, 31.7, 680, "#9a8a3f");
block(28.3, 680, 31.7, 745.7, "#f8a8b0");
block(28.3, 745.7, 31.7, 811.7, "#7fa588");
block(56.5, 28, 61.5, 33, "#3fa873", true);
block(183.2, 28, 188.2, 33, "#e0182d", true);

// ---------- Textos ----------
var log2Label = "log<sub style='font-size:7px;line-height:0'>2</sub> (fold change)";
[["(a)",10,9],["(b)",298,9],["(c)",9,191],["(d)",9,500],["(e)",288,500],["(f)",537,500]].forEach(function (t) {
  note(t[1], t[2], t[0], { size: 13 });
});
note(159, 10, "dMCAO blood vs. sham blood", { size: 10.6, bold: true });
note(104, 30.5, "Downregulated (65)", { size: 9, color: "#3fa873" });
note(225, 30.5, "Upregulated (62)", { size: 9, color: "#e0182d" });
note(158, 166.7, log2Label, { size: 10.2, bold: true });
note(19.3, 92, "\u2212log<sub style='font-size:7px;line-height:0'>10</sub> (p.adj)", { size: 10.2, bold: true, rot: -90 });
note(309, 60.3, "Sham blood", { size: 10.5, rot: -90 });
note(309, 130.5, "dMCAO blood", { size: 10.5, rot: -90 });
note(730, 20, "z\u2212score", { size: 9.5 });

var labelsC = [
  ["B cell receptor signaling pathway",603,123],["Lymphocyte<br>proliferation",377,196],["Hematopoietic cell lineage",865,180],
  ["T cell activation",331,284],["Regulation of<br>leukocyte apoptotic<br>process",279,443],["Regulation of antigen<br>processing and presentation",970,537],
  ["Cell chemotaxis",843,643],["Ras signaling pathway",960,695],["Regulation of JUN kinase activity",768,758],
  ["Regulation of<br>inflammatory response",192,627],["Negative regulation of<br>protein processing",148,840],
  ["Post-translational modification:<br>synthesis of GPI-anchored proteins",886,838]
];
var labelsUp = [
  ["Oxidative phosphorylation",412,146],["Regulation of cell cycle<br>G1/S phase transition",951,200],["Ribosome",1016,283],
  ["Response to virus",988,464],["Nephron development",978,510],["Negative regulation of catalytic activity",902,570],
  ["Steroid biosynthetic process",963,628],["Protein polymerization",999,678],["Positive regulation of<br>lymphocyte proliferation",740,838]
];
labelsC.forEach(function (t) { note(t[1] / 3, t[2] / 3 + 175, t[0]); });
labelsUp.forEach(function (t) { note(t[1] / 3 + 380, t[2] / 3 + 175, t[0]); });
note(201, 194, "Downregulated (dMCAO blood vs. sham blood)", { size: 10.6, bold: true, color: "#3fa873" });
note(605.7, 194, "Upregulated (dMCAO blood vs. sham blood)", { size: 10.6, bold: true, color: "#e0182d" });

note(57.7, 513.3, "Sham", { size: 10 });
note(101, 513.3, "dMCAO", { size: 10 });
note(209.3, 504, log2Label, { size: 10.2, bold: true });
note(86, 851.7, "z\u2212score", { size: 9.5 });
note(19.3, 557, "<i>Trem</i> family", { size: 10, rot: -90 });
note(19.3, 630, "<i>Siglec</i> family", { size: 10, rot: -90 });
note(19.3, 712.7, "<i>Cd200r</i> family", { size: 10, rot: -90 });
note(19.3, 780, "<i>Cd300</i> family", { size: 10, rot: -90 });
note(165, 590, "**", { size: 13, bold: true, color: "#e0182d" });
note(162, 656, "*", { size: 13, bold: true, color: "#e0182d" });

note(396, 503, "Pro-inflammatory markers", { size: 10.6, bold: true });
note(463.3, 525, log2Label, { size: 10.2, bold: true });
note(305, 536, "Sham", { size: 10 });
note(348.3, 536, "dMCAO", { size: 10 });
note(345.3, 851.7, "z\u2212score", { size: 9.5 });
note(402.7, 591, "*", { size: 13, bold: true, color: "#e0182d" });

note(651.7, 503, "Anti-inflammatory markers", { size: 10.6, bold: true });
note(708.3, 525, log2Label, { size: 10.2, bold: true });
note(557.3, 536, "Sham", { size: 10 });
note(601, 536, "dMCAO", { size: 10 });
note(598.3, 851.7, "z\u2212score", { size: 9.5 });
</script>
</body>
</html>
